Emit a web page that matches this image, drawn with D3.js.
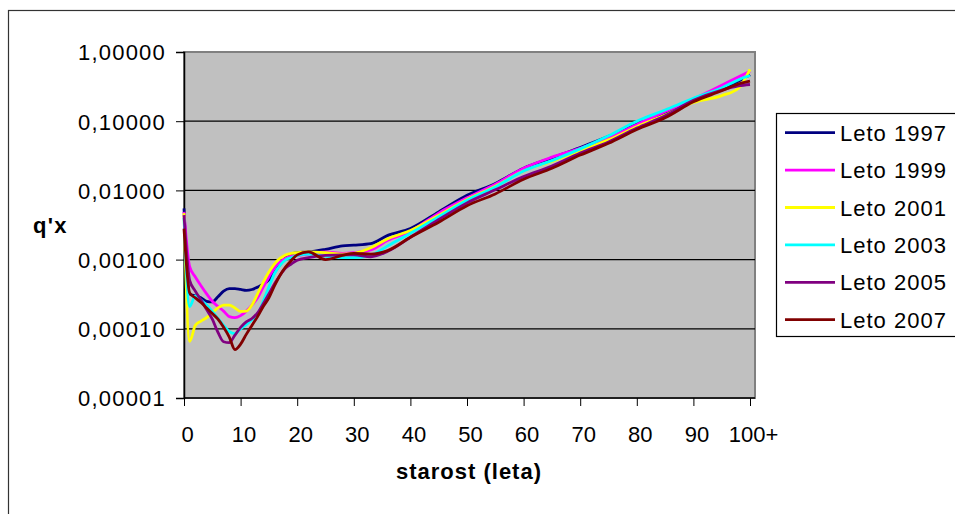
<!DOCTYPE html>
<html>
<head>
<meta charset="utf-8">
<script src="https://cdn.jsdelivr.net/npm/d3@7"></script>
<style>
  body { margin: 0; background: #fff; }
  svg { display: block; }
  text { font-family: Arial, "Liberation Sans", sans-serif; fill: #000; }
</style>
</head>
<body>
<script>
// ages (categories on the x axis)
var ages = [0,1,2,3,4,5,6,7,8,9,10,11,12,13,14,15,16,17,18,19,20,22,25,28,30,33,36,40,45,50,55,60,65,70,75,80,85,90,95,98,100];

// q'x per year
var q1997 = [0.0055,0.00032,0.00030,0.00028,0.00025,0.000245,0.00029,0.00035,0.00038,0.00038,0.00037,0.00036,0.00037,0.00040,0.00044,0.00051,0.00066,0.00085,0.00107,0.00120,0.00126,0.00129,0.00141,0.00158,0.00162,0.00170,0.00224,0.00282,0.0049,0.0085,0.0126,0.0209,0.0295,0.0417,0.0603,0.0912,0.132,0.200,0.295,0.380,0.468];
var q1999 = [0.0049,0.00079,0.00056,0.00042,0.00032,0.00025,0.00021,0.00018,0.00015,0.000145,0.000155,0.00018,0.00022,0.00028,0.00040,0.00056,0.00076,0.00093,0.00105,0.00112,0.00115,0.00120,0.00129,0.00123,0.00126,0.00138,0.0019,0.00257,0.0047,0.0078,0.0123,0.0209,0.0302,0.0407,0.0575,0.0891,0.138,0.209,0.331,0.437,0.525];
var q2001 = [0.0047,0.000066,0.000112,0.000129,0.000145,0.00017,0.00020,0.00022,0.00022,0.00020,0.000178,0.00018,0.00022,0.00032,0.00047,0.00066,0.00087,0.00105,0.00117,0.00123,0.00126,0.00129,0.00126,0.00120,0.00123,0.00148,0.0020,0.00263,0.00437,0.0074,0.0115,0.0191,0.0263,0.0372,0.0537,0.0832,0.123,0.186,0.234,0.302,0.562];
var q2003 = [0.0040,0.00021,0.00030,0.00026,0.00022,0.000178,0.000141,0.000112,0.000091,0.000085,0.00010,0.000115,0.000135,0.000158,0.00025,0.00040,0.00063,0.00083,0.00100,0.00107,0.00115,0.00120,0.00112,0.00107,0.00107,0.00115,0.00158,0.0024,0.00417,0.0072,0.0112,0.0191,0.0269,0.0398,0.0617,0.100,0.145,0.214,0.302,0.398,0.457];
var q2005 = [0.0044,0.00050,0.00035,0.00026,0.00019,0.000138,0.000089,0.000065,0.000063,0.000081,0.000105,0.000126,0.000141,0.00017,0.00023,0.00032,0.00045,0.00060,0.00076,0.00087,0.00098,0.00107,0.00115,0.00117,0.00117,0.00110,0.00132,0.0021,0.0038,0.0066,0.0102,0.0158,0.0224,0.0347,0.0501,0.0794,0.120,0.200,0.282,0.324,0.339];
var q2007 = [0.0028,0.00033,0.00028,0.00024,0.00020,0.000166,0.000138,0.000105,0.000076,0.000050,0.000060,0.000083,0.000112,0.00015,0.00021,0.00028,0.00042,0.00060,0.00079,0.00098,0.00117,0.00129,0.00100,0.00115,0.00123,0.00120,0.00135,0.0021,0.00347,0.0060,0.0089,0.0145,0.0209,0.0324,0.0479,0.0759,0.112,0.191,0.275,0.347,0.380];

var seriesNames = ["Leto 1997", "Leto 1999", "Leto 2001", "Leto 2003", "Leto 2005", "Leto 2007"];
var seriesColors = ["#000080", "#ff00ff", "#ffff00", "#00ffff", "#800080", "#800000"];
var seriesValues = [q1997, q1999, q2001, q2003, q2005, q2007];

var yTicks = [0.00001, 0.0001, 0.001, 0.01, 0.1, 1];
var xTicks = [0, 10, 20, 30, 40, 50, 60, 70, 80, 90, 100];

var w = 955;
var h = 514;

var plot = {left: 184, top: 52, right: 755, bottom: 398};

var svg = d3.select("body")
  .append("svg")
  .attr("width", w)
  .attr("height", h);

// chart area frame (runs off the picture on the right and bottom)
svg.append("rect")
  .attr("x", 8.5).attr("y", 10.5)
  .attr("width", 980).attr("height", 540)
  .attr("fill", "#fff")
  .attr("stroke", "#333")
  .attr("stroke-width", 1.2);

var x = d3.scaleLinear()
  .domain([0, 100])
  .range([plot.left, 750]);

var y = d3.scaleLog()
  .domain([0.00001, 1])
  .range([plot.bottom, plot.top]);

// plot area
svg.append("rect")
  .attr("x", plot.left).attr("y", plot.top)
  .attr("width", plot.right - plot.left)
  .attr("height", plot.bottom - plot.top)
  .attr("fill", "#c0c0c0")
  .attr("stroke", "#808080")
  .attr("stroke-width", 2);

// gridlines
svg.append("g")
  .selectAll("line")
  .data(yTicks.slice(1, -1))
  .enter()
  .append("line")
  .attr("x1", plot.left).attr("x2", plot.right)
  .attr("y1", function(d){ return y(d); })
  .attr("y2", function(d){ return y(d); })
  .attr("stroke", "#000")
  .attr("stroke-width", 1.2);

// y axis
var yAxis = svg.append("g")
  .attr("transform", "translate(" + plot.left + ",0)")
  .call(d3.axisLeft(y)
    .tickValues(yTicks)
    .tickSize(8)
    .tickPadding(10)
    .tickFormat(function(d){ return d.toFixed(5).replace(".", ","); }));
yAxis.select(".domain").attr("stroke", "#000").attr("stroke-width", 1.5);
yAxis.selectAll(".tick line").attr("stroke", "#000");
yAxis.selectAll("text")
  .style("font-size", "22px")
  .style("letter-spacing", "1.2px")
  .attr("dy", "0.36em");

// x axis
var xAxis = svg.append("g")
  .attr("transform", "translate(0," + plot.bottom + ")")
  .call(d3.axisBottom(x)
    .tickValues(xTicks)
    .tickSize(8)
    .tickSizeOuter(0)
    .tickPadding(20)
    .tickFormat(function(d){ return d == 100 ? "100+" : d; }));
xAxis.select(".domain").attr("d", "M" + plot.left + ",0H" + plot.right).attr("stroke", "#000").attr("stroke-width", 1.5);
xAxis.selectAll(".tick line").attr("stroke", "#000");
xAxis.selectAll("text")
  .style("font-size", "22px")
  .attr("dx", 3);

// lines
var line = d3.line()
  .x(function(d){ return x(d[0]); })
  .y(function(d){ return y(d[1]); })
  .curve(d3.curveMonotoneX);

seriesValues.forEach(function(vals, i) {
  svg.append("path")
    .datum(ages.map(function(a, j){ return [a, vals[j]]; }))
    .attr("d", line)
    .attr("fill", "none")
    .attr("stroke", seriesColors[i])
    .attr("stroke-width", 2.8)
    .attr("stroke-linejoin", "round");
});

// axis titles
svg.append("text")
  .attr("x", 33).attr("y", 233)
  .style("font-size", "22px")
  .style("font-weight", "bold")
  .style("letter-spacing", "1.3px")
  .text("q'x");

svg.append("text")
  .attr("x", 469).attr("y", 479)
  .attr("text-anchor", "middle")
  .style("font-size", "22px")
  .style("font-weight", "bold")
  .style("letter-spacing", "1px")
  .text("starost (leta)");

// legend
var legend = svg.append("g")
  .attr("transform", "translate(776.5,113.5)");

legend.append("rect")
  .attr("width", 200).attr("height", 223)
  .attr("fill", "#fff")
  .attr("stroke", "#000")
  .attr("stroke-width", 1.2);

var rows = legend.selectAll(".row")
  .data(seriesNames)
  .enter()
  .append("g")
  .attr("class", "row")
  .attr("transform", function(d, i){ return "translate(0," + (19.2 + i * 37.4) + ")"; });

rows.append("line")
  .attr("x1", 8.5).attr("x2", 58.5)
  .attr("stroke", function(d, i){ return seriesColors[i]; })
  .attr("stroke-width", 2.8);

rows.append("text")
  .attr("x", 63.5).attr("y", 8)
  .style("font-size", "22px")
  .style("letter-spacing", "1px")
  .text(function(d){ return d; });
</script>
</body>
</html>
